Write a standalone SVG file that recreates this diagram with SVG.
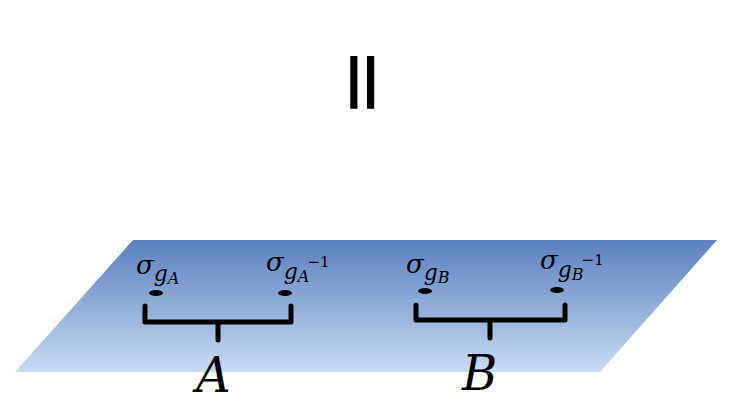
<svg xmlns="http://www.w3.org/2000/svg" width="734" height="406" viewBox="0 0 734 406">
<defs><linearGradient id="g" x1="0" y1="0" x2="0" y2="1"><stop offset="0" stop-color="#5a80bf"/><stop offset="1" stop-color="#c8dbf2"/></linearGradient></defs>
<style>.m{font-family:"DejaVu Serif","Liberation Serif",serif;font-style:italic;fill:#000}.b{fill:none;stroke:#000;stroke-width:5;stroke-linejoin:round;stroke-linecap:round}</style>
<rect width="734" height="406" fill="#fff"/>
<text x="346" y="96" font-family="Liberation Sans,sans-serif" font-size="56" font-weight="bold" letter-spacing="1">||</text>
<g id="plane"><polygon points="133,240 717,240 600,372 15,372" fill="url(#g)"/></g>
<g id="labels">
<text class="m" x="136" y="274" font-size="26">σ<tspan font-size="22" dy="7">g</tspan><tspan font-size="16" dy="3">A</tspan></text>
<text class="m" x="266" y="271" font-size="26">σ<tspan font-size="22" dy="8">g</tspan><tspan font-size="16" dy="3">A</tspan><tspan font-size="15" dx="-2" dy="-15" font-style="normal">−1</tspan></text>
<text class="m" x="406" y="273" font-size="26">σ<tspan font-size="22" dy="7">g</tspan><tspan font-size="16" dy="3">B</tspan></text>
<text class="m" x="540" y="269" font-size="26">σ<tspan font-size="22" dy="8">g</tspan><tspan font-size="16" dy="3">B</tspan><tspan font-size="15" dx="-2" dy="-15" font-style="normal">−1</tspan></text>
</g>
<g id="dots" fill="#000">
<ellipse cx="156" cy="293" rx="7" ry="3"/><ellipse cx="285" cy="293" rx="7" ry="3"/><ellipse cx="425" cy="291" rx="7" ry="3"/><ellipse cx="557" cy="290" rx="7" ry="3"/>
</g>
<g id="connectors">
<path class="b" d="M145,306 V322 H291 V306 M218,322 V340"/>
<path class="b" d="M416,305 V320 H565 V305 M490,320 V338"/>
</g>
<text class="m" x="196" y="392" font-size="48">A</text>
<text class="m" x="462" y="390" font-size="48">B</text>
</svg>
